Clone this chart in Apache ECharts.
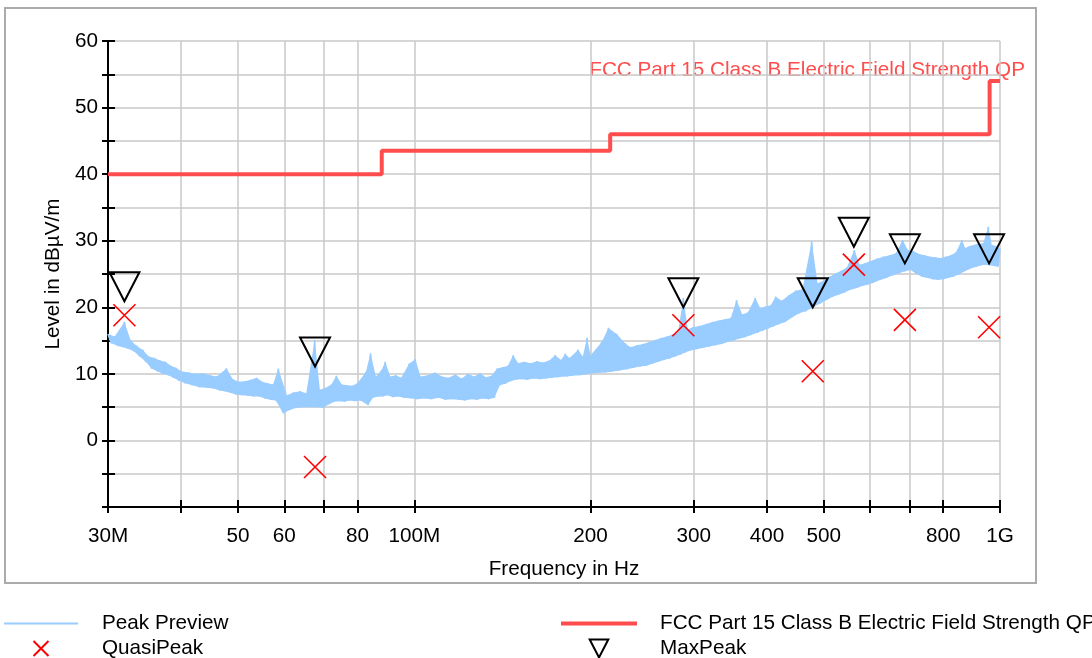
<!DOCTYPE html>
<html>
<head>
<meta charset="utf-8">
<title>Radiated emission scan</title>
<script src="https://cdn.jsdelivr.net/npm/echarts@6/dist/echarts.min.js"></script>
<style>
  html, body { margin: 0; padding: 0; background: #fff; }
  #main { width: 1092px; height: 658px; }
</style>
</head>
<body>
<div id="main"></div>
<script>
// frequencies in MHz, levels in dBuV/m
const peakPreview = [
  [30.0,16.0],[30.4,14.6],[30.8,15.6],[31.2,14.2],[31.6,15.4],[32.0,17.8],[32.4,13.8],[32.8,15.0],[33.2,13.4],[33.6,14.2],
  [34.0,12.6],[34.4,13.6],[34.8,11.8],[35.2,12.6],[35.6,10.8],[36.0,12.4],[36.4,10.4],[36.8,12.0],[37.2,10.0],[37.6,11.8],
  [38.0,9.8],[38.4,11.2],[38.8,9.4],[39.2,10.9],[39.6,9.0],[40.0,10.4],
  [40.6,8.6],[41.2,10.2],[41.8,8.3],[42.4,10.0],[43.0,8.0],[43.6,10.1],[44.2,7.9],[44.8,9.8],[45.4,7.8],[46.0,9.6],
  [46.6,7.5],[47.2,9.4],[47.8,10.8],[48.4,7.2],[49.0,9.2],[49.6,6.9],[50.2,8.8],[50.8,6.8],[51.4,8.9],[52.0,6.7],
  [52.6,9.1],[53.2,6.6],[53.8,9.4],[54.4,6.6],[55.0,8.8],[55.6,6.3],[56.2,8.6],[56.8,6.1],[57.4,8.4],[58.0,6.0],
  [58.6,10.8],[59.2,5.0],[59.8,4.1],
  [60.6,6.8],[61.4,4.6],[62.2,7.2],[63.0,4.9],[63.8,7.4],[64.6,5.0],[65.4,7.1],[66.2,5.0],[67.0,7.3],[67.6,15.1],
  [68.2,5.0],[69.0,7.6],[69.8,4.9],[70.6,7.9],[71.4,5.4],[72.2,8.4],[73.0,5.8],[73.6,9.7],[74.4,5.9],[75.2,8.4],
  [76.0,5.8],[76.8,8.3],[77.6,6.0],[78.4,8.2],[79.2,5.9],[80.0,8.6],[81.0,6.0],[82.0,8.4],[82.7,10.3],[83.4,5.3],
  [84.2,13.1],[85.0,6.4],[86.0,9.6],[87.0,6.6],[88.0,10.6],[88.5,6.6],[89.2,11.8],[90.0,6.8],[91.0,9.6],[92.0,6.5],
  [93.0,9.8],[94.0,6.6],[95.0,9.4],[96.0,6.4],[97.0,9.6],[98.0,11.5],[98.8,6.3],[99.6,9.7],[100.4,12.2],[101.2,6.2],
  [102.5,9.6],[104.0,6.3],[105.5,9.8],[107.0,6.2],[108.5,10.2],[110.0,6.4],[111.5,9.6],[113.0,6.1],[114.5,9.4],[116.0,6.2],
  [117.5,9.9],[119.0,6.1],[120.5,9.3],[122.0,6.0],[123.5,10.0],[125.0,6.2],[126.5,9.6],[128.0,6.1],[129.5,10.1],[131.0,6.3],
  [132.5,9.5],[134.0,6.2],[135.5,9.7],[137.0,6.4],[138.5,10.8],[140.0,8.3],[141.5,11.0],[143.0,8.5],[144.5,11.2],[146.0,8.9],
  [147.5,12.8],[149.0,9.1],[150.5,11.6],[152.0,9.2],[154.0,11.8],[156.0,9.1],[158.0,11.6],[160.0,9.3],[162.0,11.9],[164.0,9.2],
  [166.0,11.7],[168.0,9.3],[170.0,12.0],[172.0,9.4],[174.0,12.8],[176.0,9.5],[178.0,12.1],[180.0,9.6],[181.0,13.0],[182.5,9.6],
  [184.0,12.4],[186.0,9.7],[188.0,12.4],[190.5,13.6],[192.0,9.8],[194.0,12.6],[196.0,9.9],[197.2,15.4],[198.5,10.0],[200.0,12.8],
  [203,10.1],[206,13.2],[209,14.8],[212,10.2],[214.5,16.9],[217,10.3],[220,13.5],[221.6,16.0],[224,10.5],[227,13.9],
  [229,14.6],[231,10.7],[234,14.0],[237,10.9],[240,14.3],[243,11.1],[246,14.5],[249,11.2],[252,14.8],[255,11.5],
  [258,15.1],[261,11.8],[264,15.4],[267,12.1],[270,15.6],[273,12.3],[276,15.9],[279,12.6],[282,16.2],[285,12.9],
  [288,21.4],[290,13.2],[293,16.7],[296,13.5],[299,17.0],
  [303,13.7],[307,17.2],[311,13.9],[315,17.5],[319,14.1],[323,17.8],[327,14.3],[331,18.0],[335,14.5],[339,18.2],
  [343,14.8],[347,18.4],[351,15.0],[355,21.1],[359,15.3],[363,18.9],[367,15.5],[371,19.2],[375,15.8],[379,19.5],
  [382,21.4],[386,16.2],[390,19.8],[394,16.5],[398,20.1],
  [402,16.8],[406,20.3],[410,17.1],[414,21.6],[418,17.4],[424,21.0],[430,17.8],[436,21.8],[442,18.5],[448,22.5],
  [454,19.1],[460,22.7],[466,19.4],[472,22.9],[477,29.9],[482,20.1],[488,23.6],[494,20.6],[500,24.0],[506,21.1],
  [512,24.6],[518,21.6],[524,25.1],[530,21.9],[536,25.5],[542,22.2],[548,26.0],[554,22.6],[560,26.2],[564,28.6],
  [570,22.9],[576,26.4],[582,23.2],[588,26.6],[594,23.4],[600,26.9],
  [608,23.7],[616,27.3],[624,24.1],[632,27.6],[640,24.4],[648,27.8],[656,24.8],[664,28.1],[672,25.1],[682,30.1],
  [688,25.4],[696,28.6],[704,25.6],[712,28.4],[720,25.0],[728,28.0],[736,24.6],[744,27.8],[752,24.4],[760,27.6],
  [768,24.2],[776,27.5],[784,24.1],[792,27.4],[800,24.2],[808,27.6],[816,24.4],[824,27.8],[832,24.6],[840,28.2],
  [848,24.9],[856,28.5],[861,30.1],[866,25.3],[872,28.9],[880,25.6],[888,29.2],[896,25.9],[904,29.4],[912,26.1],
  [920,29.6],[928,26.3],[936,29.6],[944,26.4],[950,29.5],[955,32.1],[960,26.3],[968,29.4],[976,26.2],[984,29.2],
  [992,26.1],[1000,28.8]
];

// FCC Part 15 class B limit (step changes at the next frequency)
const limitFreq = [30, 88, 216, 960, 1000];
const limitLevel = [40, 43.5, 46, 54, 54];

const qpFreq = [32, 67.7, 288, 479, 563, 688, 958];
const qpLevel = [18.8, -4.0, 17.3, 10.4, 26.4, 18.1, 17.0];

const maxPeakFreq = [32, 67.7, 288, 479, 563, 688, 958];
const maxPeakLevel = [20.9, 11.1, 20.0, 20.0, 29.1, 26.6, 26.6];

const xTicks = [30, 40, 50, 60, 70, 80, 100, 200, 300, 400, 500, 600, 700, 800, 1000];
const xLabels = [30, 50, 60, 80, 100, 200, 300, 400, 500, 800, 1000];
const xLabelText = { 30: '30M', 100: '100M', 1000: '1G' };

const limitName = 'FCC Part 15 Class B Electric Field Strength QP';

const FONT = '"Liberation Sans", Arial, sans-serif';
const FS = 20.7;
const GRID_COLOR = '#c8c8c8';
const TRACE_COLOR = '#99ccff';
const LIMIT_COLOR = '#ff4d4d';

const crossSymbol = 'path://M0 0L22 22M22 0L0 22';
const triangleSymbol = 'path://M0 0L30 0L15 29Z';

const zip = (a, b) => a.map((v, i) => [v, b[i]]);

// upper / lower edges of the sweep trace (its local maxima and minima), used to fill the band
const traceUpper = peakPreview.filter((p, i, a) =>
  (i === 0 || p[1] >= a[i - 1][1]) && (i === a.length - 1 || p[1] >= a[i + 1][1]));
const traceLower = peakPreview.filter((p, i, a) =>
  (i === 0 || p[1] <= a[i - 1][1]) && (i === a.length - 1 || p[1] <= a[i + 1][1]));

const chart = echarts.init(document.getElementById('main'), null, { renderer: 'canvas' });

const xAxisBase = {
  type: 'log',
  logBase: 10,
  min: 30,
  max: 1000,
  position: 'bottom',
  axisLine: { show: true, onZero: false, lineStyle: { color: '#000', width: 2 } },
  minorTick: { show: false },
  minorSplitLine: { show: false }
};
const yAxisBase = {
  type: 'value',
  min: -10,
  max: 60,
  interval: 5,
  position: 'left',
  axisLine: { show: true, onZero: false, lineStyle: { color: '#000', width: 2 } }
};

const option = {
  animation: false,
  backgroundColor: '#fff',
  textStyle: { fontFamily: FONT },
  grid: { left: 108, right: 92, top: 41, bottom: 151, containLabel: false, outerBoundsMode: 'none' },
  graphic: [
    {
      type: 'rect',
      silent: true,
      z: -10,
      shape: { x: 5, y: 8, width: 1031, height: 575 },
      style: { fill: 'none', stroke: '#ababab', lineWidth: 2 }
    },
    {
      type: 'text',
      silent: true,
      x: 1025,
      y: 70,
      style: {
        text: limitName,
        fill: LIMIT_COLOR,
        font: FS + 'px ' + FONT,
        align: 'right',
        verticalAlign: 'middle'
      }
    }
  ],
  legend: [
    {
      data: [
        { name: 'Peak Preview', icon: 'path://M0 0H74V2H0Z' },
        { name: 'QuasiPeak' }
      ],
      orient: 'vertical',
      left: 4,
      top: 613,
      height: 50,
      padding: 0,
      itemWidth: 74,
      itemHeight: 15,
      itemGap: 4,
      selectedMode: false,
      textStyle: { fontSize: FS, color: '#000', fontFamily: FONT, padding: [0, 0, 0, 19] }
    },
    {
      data: [
        { name: limitName, icon: 'path://M0 0H76V4H0Z' },
        { name: 'MaxPeak' }
      ],
      orient: 'vertical',
      left: 561,
      top: 613,
      height: 50,
      padding: 0,
      itemWidth: 76,
      itemHeight: 18,
      itemGap: 4,
      selectedMode: false,
      textStyle: { fontSize: FS, color: '#000', fontFamily: FONT, padding: [0, 0, 0, 18] }
    }
  ],
  xAxis: [
    Object.assign({}, xAxisBase, {
      name: 'Frequency in Hz',
      nameLocation: 'middle',
      nameGap: 52,
      nameTextStyle: { fontSize: FS, color: '#000', fontFamily: FONT, padding: [0, 0, 0, 20] },
      axisTick: { show: true, inside: false, length: 6, customValues: xTicks, lineStyle: { color: '#000', width: 2 } },
      axisLabel: {
        customValues: xLabels,
        formatter: v => xLabelText[Math.round(v)] || String(Math.round(v)),
        fontSize: FS,
        color: '#000',
        fontFamily: FONT,
        margin: 19
      },
      splitLine: { show: true, lineStyle: { color: GRID_COLOR, width: 1.5 } }
    }),
    Object.assign({}, xAxisBase, {
      axisTick: { show: true, inside: true, length: 7, customValues: xTicks, lineStyle: { color: '#000', width: 2 } },
      axisLabel: { show: false },
      splitLine: { show: false }
    })
  ],
  yAxis: [
    Object.assign({}, yAxisBase, {
      name: 'Level in dBµV/m',
      nameLocation: 'middle',
      nameGap: 42,
      nameTextStyle: { fontSize: FS, color: '#000', fontFamily: FONT },
      axisTick: { show: true, inside: false, length: 6, lineStyle: { color: '#000', width: 2 } },
      axisLabel: {
        formatter: v => (v % 10 === 0 && v > -10) ? String(v) : '',
        fontSize: FS,
        color: '#000',
        fontFamily: FONT,
        margin: 10
      },
      splitLine: { show: true, lineStyle: { color: GRID_COLOR, width: 1.5 } }
    }),
    Object.assign({}, yAxisBase, {
      axisTick: { show: true, inside: true, length: 7, lineStyle: { color: '#000', width: 2 } },
      axisLabel: { show: false },
      splitLine: { show: false }
    })
  ],
  series: [
    {
      name: 'Peak Preview band',
      type: 'custom',
      coordinateSystem: 'cartesian2d',
      data: peakPreview,
      encode: { x: 0, y: 1 },
      silent: true,
      z: 1,
      renderItem: (params, api) => {
        if (params.dataIndex !== 0) return null;
        const pts = traceUpper.map(p => api.coord(p))
          .concat(traceLower.slice().reverse().map(p => api.coord(p)));
        return { type: 'polygon', shape: { points: pts }, style: { fill: TRACE_COLOR } };
      }
    },
    {
      name: 'Peak Preview',
      type: 'line',
      data: peakPreview,
      symbol: 'none',
      showSymbol: false,
      lineStyle: { color: TRACE_COLOR, width: 1.6 },
      itemStyle: { color: TRACE_COLOR },
      z: 2
    },
    {
      name: limitName,
      type: 'line',
      step: 'end',
      data: zip(limitFreq, limitLevel),
      symbol: 'none',
      showSymbol: false,
      lineStyle: { color: LIMIT_COLOR, width: 4 },
      itemStyle: { color: LIMIT_COLOR },
      z: 3
    },
    {
      name: 'QuasiPeak',
      type: 'scatter',
      data: zip(qpFreq, qpLevel),
      symbol: crossSymbol,
      symbolSize: 22,
      itemStyle: { color: 'rgba(0,0,0,0)', borderColor: '#ff0000', borderWidth: 1.6, opacity: 1 },
      z: 5
    },
    {
      name: 'MaxPeak',
      type: 'scatter',
      data: zip(maxPeakFreq, maxPeakLevel),
      symbol: triangleSymbol,
      symbolSize: [30, 29],
      symbolOffset: [0, -14.5],
      itemStyle: { color: 'rgba(0,0,0,0)', borderColor: '#000', borderWidth: 2, opacity: 1 },
      z: 6
    }
  ]
};

chart.setOption(option);
</script>
</body>
</html>
